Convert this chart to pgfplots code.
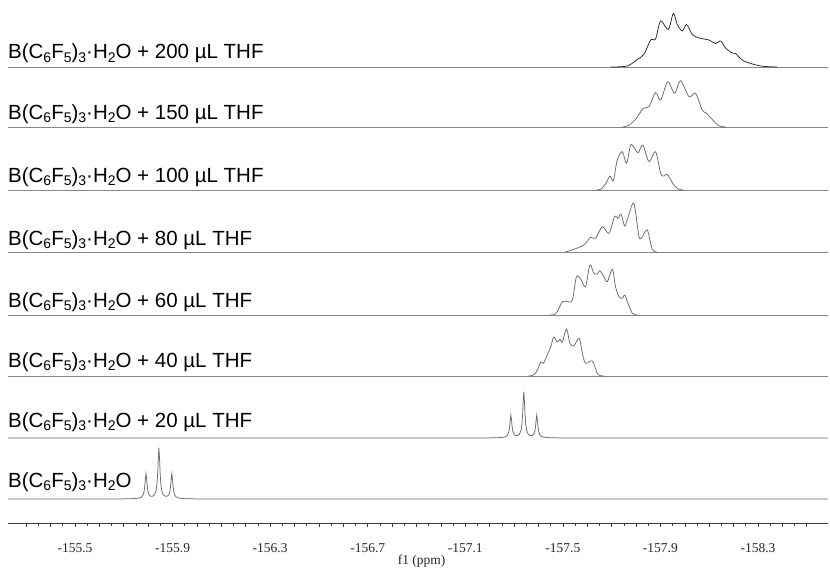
\documentclass[border=0pt]{standalone}
\usepackage{pgfplots}
\pgfplotsset{compat=1.18}
\usepackage{fontspec}
\setmainfont{Liberation Sans}
\newfontfamily\tickfont{Liberation Serif}
\definecolor{specgray}{RGB}{105,105,105}
\definecolor{basegray}{RGB}{135,135,135}
\definecolor{topgray}{RGB}{40,40,40}
\definecolor{axisgray}{RGB}{60,60,60}
% subscripts in the sample names
\newcommand\sbs[1]{\raisebox{-0.3ex}{\fontsize{14bp}{14bp}\selectfont #1}}
\newcommand\labfont{\fontsize{20.5bp}{24bp}\selectfont}
\newcommand\cmpd{B(C\sbs{6}F\sbs{5})\sbs{3}·H\sbs{2}O}

\begin{document}
\begin{tikzpicture}
\useasboundingbox (-8bp,-47bp) rectangle (822bp,523bp);
\begin{axis}[
  at={(0,0)}, anchor=south west,
  scale only axis, width=820bp, height=523bp,
  x dir=reverse, xmin=-158.587, xmax=-155.2253, ymin=-24, ymax=499,
  axis x line=bottom, axis y line=none,
  x axis line style={-, draw=axisgray, line width=0.8bp},
  tick align=outside,
  xtick={-155.3,-155.4,-155.5,-155.6,-155.7,-155.8,-155.9,-156.0,-156.1,-156.2,-156.3,-156.4,-156.5,-156.6,-156.7,-156.8,-156.9,-157.0,-157.1,-157.2,-157.3,-157.4,-157.5,-157.6,-157.7,-157.8,-157.9,-158.0,-158.1,-158.2,-158.3,-158.4,-158.5},
  xticklabels={,,-155.5,,,,-155.9,,,,-156.3,,,,-156.7,,,,-157.1,,,,-157.5,,,,-157.9,,,,-158.3,,},
  minor x tick num=1,
  major tick length=4bp, minor tick length=2.5bp,
  tick style={draw=axisgray, line width=0.6bp},
  xticklabel style={font=\tickfont\fontsize{13.5bp}{15bp}\selectfont, text=black!85, anchor=base, yshift=-25.5bp},
  clip=false,
  lift/.style={/pgfplots/y filter/.expression={y+#1}},
  spec/.style={draw=specgray, line width=0.75bp, mark=none},
  base/.style={draw=basegray, line width=0.7bp, mark=none},
]

% ---- B(C6F5)3.H2O : triplet ----
\addplot[spec] coordinates {
(-155.2253,0) (-155.650,0) (-155.724,0.2) (-155.749,0.5) (-155.764,1.0) (-155.773,2.05)
(-155.779,4.0) (-155.783,7.3) (-155.786,12.9) (-155.788,18.8) (-155.791,25.5)
(-155.794,18.9) (-155.796,13.05) (-155.799,7.6) (-155.803,4.5) (-155.809,2.9)
(-155.8175,2.7) (-155.826,4.25) (-155.832,8.0) (-155.836,14.8) (-155.839,26.0)
(-155.841,38.2) (-155.844,51.4) (-155.847,38.2) (-155.849,26.0) (-155.852,14.8)
(-155.856,8.0) (-155.862,4.25) (-155.8705,2.7) (-155.879,2.9) (-155.885,4.5)
(-155.889,7.6) (-155.892,13.05) (-155.894,18.9) (-155.897,25.5) (-155.900,18.8)
(-155.902,12.9) (-155.905,7.3) (-155.909,4.0) (-155.915,2.05) (-155.924,1.0)
(-155.939,0.5) (-155.964,0.2) (-156.040,0) (-158.587,0)};

% ---- + 20 uL THF : triplet ----
\addplot[spec, lift=61] coordinates {
(-155.2253,0) (-157.150,0) (-157.220,0.18) (-157.245,0.45) (-157.260,0.9) (-157.269,1.85)
(-157.275,3.6) (-157.279,6.6) (-157.282,11.6) (-157.284,16.9) (-157.287,23.0)
(-157.290,17.0) (-157.292,11.7) (-157.295,6.8) (-157.299,4.05) (-157.305,2.6)
(-157.3135,2.4) (-157.322,3.8) (-157.328,7.2) (-157.332,13.3) (-157.335,23.4)
(-157.337,34.4) (-157.340,46.3) (-157.343,34.4) (-157.345,23.4) (-157.348,13.3)
(-157.352,7.2) (-157.358,3.8) (-157.3665,2.4) (-157.375,2.6) (-157.381,4.05)
(-157.385,6.8) (-157.388,11.7) (-157.390,17.0) (-157.393,23.0) (-157.396,16.9)
(-157.398,11.6) (-157.401,6.6) (-157.405,3.6) (-157.411,1.85) (-157.420,0.9)
(-157.435,0.45) (-157.460,0.18) (-157.530,0) (-158.587,0)};

% ---- + 40 uL THF ----
\addplot[base, lift=123] coordinates {(-155.2253,0) (-158.587,0)};
\addplot[spec, lift=123, smooth, tension=0.5] coordinates {
(-157.359,0) (-157.380,1) (-157.396,6) (-157.409,14) (-157.420,12.7) (-157.436,21)
(-157.450,29) (-157.463,39) (-157.477,34) (-157.488,36.7) (-157.498,34) (-157.515,47)
(-157.529,32.7) (-157.545,30) (-157.567,37.7) (-157.580,22.7) (-157.593,12.7)
(-157.621,15) (-157.641,2.7) (-157.655,0.3) (-157.671,0)};

% ---- + 60 uL THF ----
\addplot[base, lift=184] coordinates {(-155.2253,0) (-158.587,0)};
\addplot[spec, lift=184, smooth, tension=0.5] coordinates {
(-157.445,0) (-157.463,0.3) (-157.477,3.3) (-157.498,13.3) (-157.518,13.3) (-157.539,15)
(-157.556,38.3) (-157.575,35) (-157.593,28.3) (-157.611,50) (-157.627,41.7) (-157.641,41)
(-157.652,44.3) (-157.668,38.3) (-157.682,33.3) (-157.703,45.7) (-157.716,28.3)
(-157.730,18.3) (-157.744,16.7) (-157.754,20) (-157.767,11.7) (-157.785,1.7) (-157.805,0)};

% ---- + 80 uL THF ----
\addplot[base, lift=247] coordinates {(-155.2253,0) (-158.587,0)};
\addplot[spec, lift=247, smooth, tension=0.5] coordinates {
(-157.511,0) (-157.545,2.7) (-157.586,7) (-157.614,14.7) (-157.634,13.7) (-157.662,25.3)
(-157.689,18.7) (-157.712,35.3) (-157.726,33.7) (-157.739,38) (-157.753,26) (-157.766,33.7)
(-157.791,48.7) (-157.812,15.3) (-157.826,15.3) (-157.846,22) (-157.867,2.7) (-157.888,0)};

% ---- + 100 uL THF ----
\addplot[base, lift=309] coordinates {(-155.2253,0) (-158.587,0)};
\addplot[spec, lift=309, smooth, tension=0.5] coordinates {
(-157.634,0) (-157.655,0.7) (-157.675,6) (-157.693,14) (-157.707,9.3) (-157.723,30)
(-157.744,38.3) (-157.761,26.7) (-157.778,45) (-157.794,41.7) (-157.809,37.3) (-157.828,45)
(-157.853,28.3) (-157.880,38.3) (-157.901,16.7) (-157.915,14) (-157.928,15.7)
(-157.955,5) (-157.976,0.7) (-157.995,0)};

% ---- + 150 uL THF ----
\addplot[base, lift=372] coordinates {(-155.2253,0) (-158.587,0)};
\addplot[spec, lift=372, smooth, tension=0.5] coordinates {
(-157.745,0) (-157.769,1.5) (-157.798,7.7) (-157.830,18.7) (-157.853,20.3) (-157.880,34.3)
(-157.901,27) (-157.930,45.3) (-157.958,33.7) (-157.983,46.3) (-158.017,30.3) (-158.044,33.7)
(-158.071,17) (-158.089,13.7) (-158.112,7.7) (-158.138,1.5) (-158.167,0)};

% ---- + 200 uL THF ----
\addplot[base, lift=432] coordinates {(-155.2253,0) (-158.587,0)};
\addplot[spec, draw=topgray, lift=432, smooth, tension=0.5] coordinates {
(-157.696,0) (-157.764,1) (-157.805,7.5) (-157.832,12.5) (-157.860,27) (-157.880,28)
(-157.901,46) (-157.932,37.5) (-157.953,53.5) (-157.969,42.5) (-157.990,36) (-158.007,42.5)
(-158.031,32.5) (-158.058,29) (-158.099,27) (-158.126,23.5) (-158.147,26) (-158.167,19)
(-158.195,14) (-158.208,13.5) (-158.242,6) (-158.311,1) (-158.379,0)};

% sample names
\begin{scope}[every node/.style={anchor=base west, inner sep=0pt, font=\labfont}]
\node at (axis cs:-155.2253,440)   {\cmpd{} + 200 µL THF};
\node at (axis cs:-155.2253,379.5) {\cmpd{} + 150 µL THF};
\node at (axis cs:-155.2253,316.5) {\cmpd{} + 100 µL THF};
\node at (axis cs:-155.2253,253.5) {\cmpd{} + 80 µL THF};
\node at (axis cs:-155.2253,191.5) {\cmpd{} + 60 µL THF};
\node at (axis cs:-155.2253,131.5) {\cmpd{} + 40 µL THF};
\node at (axis cs:-155.2253,71.5)  {\cmpd{} + 20 µL THF};
\node at (axis cs:-155.2253,11.5)  {\cmpd};
\end{scope}

\node[anchor=base, inner sep=0pt, font=\tickfont\fontsize{13.5bp}{15bp}\selectfont, text=black!85]
  at (axis cs:-156.921,-65) {f1 (ppm)};
\end{axis}
\end{tikzpicture}
\end{document}
